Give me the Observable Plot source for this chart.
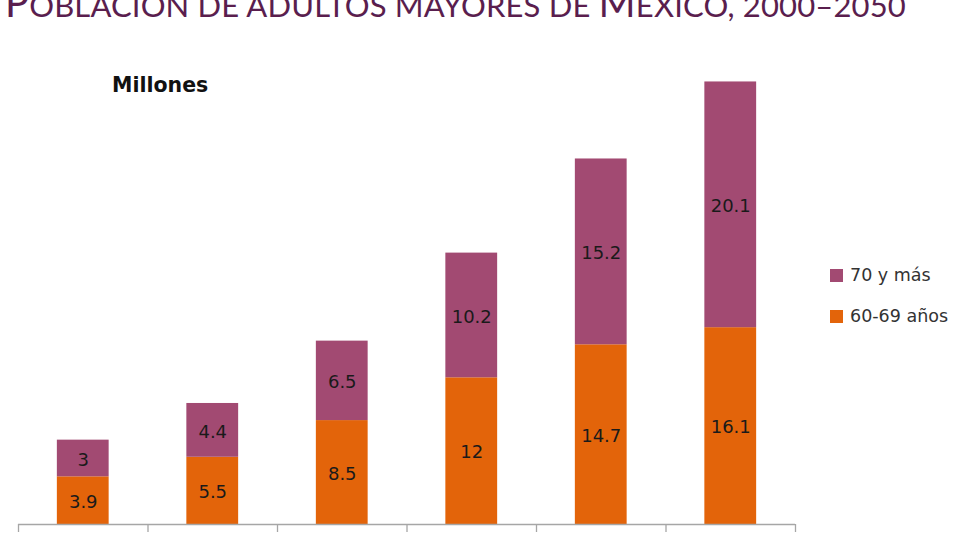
<!DOCTYPE html>
<html>
<head>
<meta charset="utf-8">
<script src="https://cdn.jsdelivr.net/npm/d3@7"></script>
<script src="https://cdn.jsdelivr.net/npm/@observablehq/plot@0.6"></script>
<style>
  html, body { margin: 0; padding: 0; background: #fff; overflow: hidden; }
  #wrap { position: relative; width: 956px; height: 544px; }
  #title { position: absolute; left: 5px; top: -23px; font-family: Lato, "Open Sans", sans-serif; font-weight: 400;
           color: #5a1e4e; white-space: nowrap; line-height: 50px; letter-spacing: 0.15px; }
  #title .big { font-size: 40px; }
  #title .sm { font-size: 31px; }
  #unit { position: absolute; left: 112px; top: 73px; font-family: "DejaVu Sans", Verdana, sans-serif; font-weight: bold; font-size: 20.5px; color: #111; }
  #legend { position: absolute; left: 830px; top: 263px; font-family: "DejaVu Sans", Verdana, sans-serif; font-size: 17.5px; color: #333; }
  #legend div { display: flex; align-items: center; height: 24px; margin-bottom: 17px; }
  #legend span.sw { width: 13px; height: 13px; margin-right: 7px; display: inline-block; }
</style>
</head>
<body>
<div id="wrap">
  <div id="chart"></div>
  <div id="title"></div>
  <div id="unit">Millones</div>
  <div id="legend"></div>
</div>
<script>
const titleText = "Población de adultos mayores de México, 2000–2050";
const years = [2000, 2010, 2020, 2030, 2040, 2050];
const groups = ["60-69 años", "70 y más"];
const age6069 = [3.9, 5.5, 8.5, 12, 14.7, 16.1];
const age70 = [3, 4.4, 6.5, 10.2, 15.2, 20.1];
const colors = ["#e3640a", "#a24a72"];
const legendOrder = ["70 y más", "60-69 años"];

const series = [age6069, age70];
const rows = [];
years.forEach((yr, i) => {
  let base = 0;
  series.forEach((s, g) => {
    rows.push({year: yr, group: groups[g], value: s[i], y1: base, y2: base + s[i]});
    base += s[i];
  });
});
const half = 2; // half bar width, in years

const chart = Plot.plot({
  width: 956,
  height: 544,
  marginLeft: 18,
  marginRight: 161,
  marginTop: 35,
  marginBottom: 20,
  x: {domain: [1995, 2055], axis: null},
  y: {domain: [0, 40], axis: null},
  color: {domain: groups, range: colors},
  marks: [
    Plot.rectY(rows, {x1: d => d.year - half, x2: d => d.year + half, y1: "y1", y2: "y2", fill: "group"}),
    Plot.text(rows, {x: "year", y: d => (d.y1 + d.y2) / 2, text: d => String(d.value), dy: 1.5,
      fill: "#1a1a1a", fontSize: 18, fontFamily: "DejaVu Sans, Verdana, sans-serif"}),
    Plot.ruleY([0], {stroke: "#a6a6a6", strokeWidth: 1.3}),
    Plot.ruleX(d3.range(1995, 2056, 10), {y1: 0, y2: 0, insetBottom: -8, stroke: "#a6a6a6", strokeWidth: 1.3})
  ]
});
document.getElementById("chart").appendChild(chart);

// Title in small caps: capitals large, everything else smaller capitals
const title = document.getElementById("title");
let buf = "", cls = null;
const flush = () => {
  if (!buf) return;
  const sp = document.createElement("span");
  sp.className = cls;
  sp.textContent = cls === "sm" ? buf.toUpperCase() : buf;
  title.appendChild(sp);
  buf = "";
};
for (const ch of titleText) {
  const c = /[A-ZÁÉÍÓÚÑ]/.test(ch) ? "big" : "sm";
  if (c !== cls) { flush(); cls = c; }
  buf += ch;
}
flush();

const legend = document.getElementById("legend");
legendOrder.forEach(g => {
  const row = document.createElement("div");
  const sw = document.createElement("span");
  sw.className = "sw";
  sw.style.background = colors[groups.indexOf(g)];
  row.appendChild(sw);
  row.appendChild(document.createTextNode(g));
  legend.appendChild(row);
});
</script>
</body>
</html>
